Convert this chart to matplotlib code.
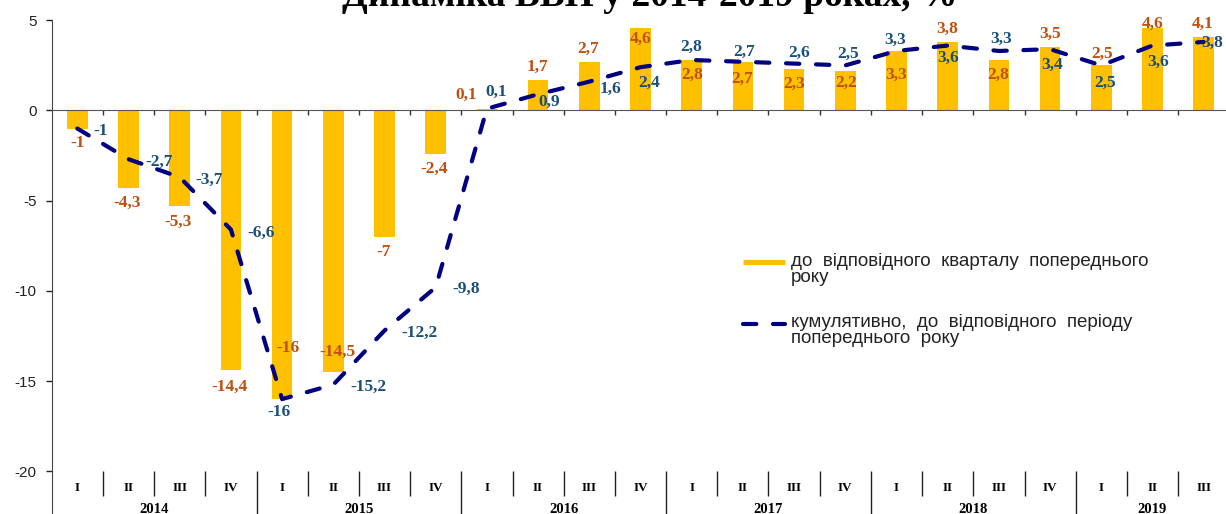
import matplotlib
matplotlib.use('Agg')
import matplotlib.pyplot as plt
from matplotlib.lines import Line2D

plt.rcParams['axes.unicode_minus'] = False
plt.rcParams['font.family'] = ['Liberation Sans', 'DejaVu Sans']

# ---------------- data ----------------
quarters = ['I', 'II', 'III', 'IV'] * 5 + ['I', 'II', 'III']
years = ['2014', '2015', '2016', '2017', '2018', '2019']
yoy = [-1, -4.3, -5.3, -14.4, -16, -14.5, -7, -2.4, 0.1, 1.7, 2.7, 4.6,
       2.8, 2.7, 2.3, 2.2, 3.3, 3.8, 2.8, 3.5, 2.5, 4.6, 4.1]
cumul = [-1, -2.7, -3.7, -6.6, -16, -15.2, -12.2, -9.8, 0.1, 0.9, 1.6, 2.4,
         2.8, 2.7, 2.6, 2.5, 3.3, 3.6, 3.3, 3.4, 2.5, 3.6, 3.8]
title = 'Динаміка ВВП у 2014-2019 роках, %'
lbl_yoy = 'до  відповідного  кварталу  попереднього\nроку'
lbl_cum = 'кумулятивно,  до  відповідного  періоду\nпопереднього  року'

# label offsets from the point (pixels)
yoy_off = [(0, -14), (-1, -15), (-2, -16), (-1, -17), (6, 51), (4, 20), (-1, -15),
           (-2, -15), (-21, 14), (-1, 13), (-1, 13), (0, -11), (0, -15), (-1, -17),
           (0, -15), (1, -12), (0, -24), (-1, 13), (-1, -15), (0, 13), (1, 12),
           (0, 4), (-1, 13)]
cum_off = [(23, -2), (31, -3), (29, -3), (30, -3), (-3, -13), (35, -2), (35, -2),
           (30, -2), (9, 17), (11, -8), (21, -7), (9, -16), (-1, 13), (1, 10),
           (5, 11), (3, 12), (-1, 11), (0, -12), (2, 12), (2, -16), (4, -17),
           (6, -16), (8, -1)]

bar_col = '#FFC000'
line_col = '#000080'
yoy_txt = '#C0500E'
cum_txt = '#1B4F7A'
serif = ['Liberation Serif', 'DejaVu Serif']

W, H = 1226, 514
fig = plt.figure(figsize=(W / 100, H / 100), dpi=100)
ax = fig.add_axes([51.7 / W, 0, 1177.6 / W, 1 - 20.3 / H])

x = list(range(len(yoy)))
ax.bar(x, yoy, width=0.4, color=bar_col, zorder=2)
ax.plot(x, cumul, color=line_col, lw=3.0, dashes=(3.2, 4.0),
        dash_capstyle='round', zorder=3)

def fmt(v):
    return ('%g' % v).replace('.', ',')

for i, v in enumerate(yoy):
    ax.annotate(fmt(v), (i, v), xytext=yoy_off[i], textcoords='offset pixels',
                ha='center', va='center', color=yoy_txt, fontsize=12.5,
                fontweight='bold', family=serif, zorder=4)
for i, v in enumerate(cumul):
    ax.annotate(fmt(v), (i, v), xytext=cum_off[i], textcoords='offset pixels',
                ha='center', va='center', color=cum_txt, fontsize=12.5,
                fontweight='bold', family=serif, zorder=5)

n = len(yoy)
ax.set_xlim(-0.5, n - 0.5)
ax.set_ylim(-22.37, 5)
ax.set_yticks([-20, -15, -10, -5, 0, 5])
ax.tick_params(axis='y', direction='out', length=4, width=1, pad=7,
               labelsize=11, colors='#222222')
ax.set_xticks([i + 0.5 for i in range(n - 1)])
ax.set_xticklabels([])
ax.tick_params(axis='x', direction='out', length=3.5, width=1, colors='#333333')
ax.spines['bottom'].set_position(('data', 0))
ax.spines['bottom'].set_color('#555555')
ax.spines['left'].set_color('#444444')
for s in ['top', 'right']:
    ax.spines[s].set_visible(False)

# category axis at the bottom
for i, q in enumerate(quarters):
    ax.text(i, -20.93, q, ha='center', va='center', fontsize=9.5,
            fontweight='bold', family=serif)
year_first = [i for i, q in enumerate(quarters) if q == 'I']
for k, yr in enumerate(years):
    start = year_first[k]
    end = year_first[k + 1] - 1 if k + 1 < len(year_first) else n - 1
    ax.text((start + end) / 2, -22.12, yr, ha='center', va='center',
            fontsize=10.5, fontweight='bold', family=serif, clip_on=False)
short = [i + 0.5 for i in range(n - 1) if quarters[i + 1] != 'I']
long_ = [i + 0.5 for i in range(n - 1) if quarters[i + 1] == 'I']
ax.vlines(short, -20, -21.35, color='#222222', lw=1)
ax.vlines(long_, -20, -22.37, color='#222222', lw=1)

# legend
def fx(px):
    return px / W

def fy(py):
    return 1 - py / H

fig.add_artist(Line2D([fx(743), fx(785)], [fy(262), fy(262)], color=bar_col,
                      lw=3.8, solid_capstyle='butt'))
fig.add_artist(Line2D([fx(743), fx(785)], [fy(324), fy(324)], color=line_col,
                      lw=3.0, dashes=(3.2, 4.0), dash_capstyle='round'))
fig.text(fx(791), fy(253), lbl_yoy, ha='left', va='top', fontsize=13.5,
         linespacing=0.95, color='#222222')
fig.text(fx(791), fy(314), lbl_cum, ha='left', va='top', fontsize=13.5,
         linespacing=0.95, color='#222222')

fig.text(0.53, fy(6), title, ha='center', va='baseline', fontsize=27,
         fontweight='bold', family=serif)

fig.savefig('out.png', dpi=100)
